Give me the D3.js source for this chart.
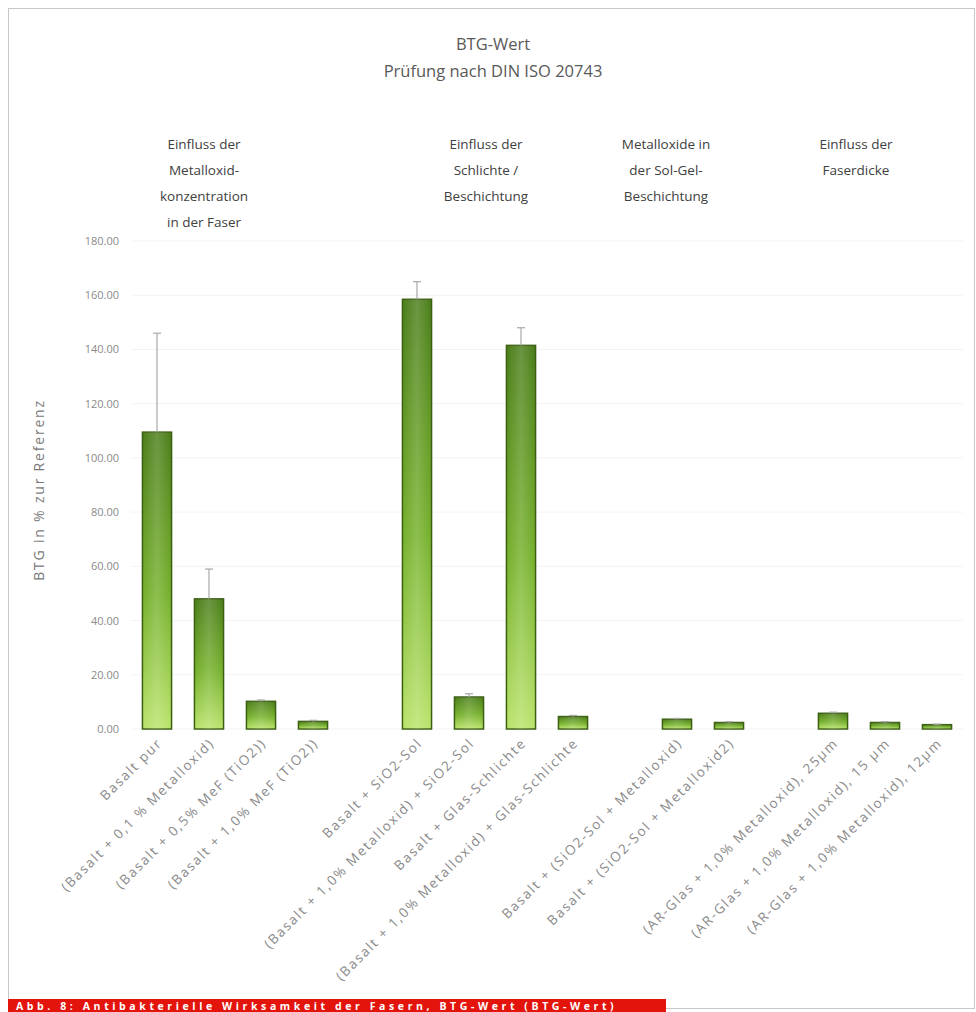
<!DOCTYPE html>
<html>
<head>
<meta charset="utf-8">
<script src="https://cdn.jsdelivr.net/npm/d3@7/dist/d3.min.js"></script>
<style>
  html, body { margin: 0; padding: 0; background: #fff; }
  svg { display: block; }
  text { font-family: "Open Sans", "Noto Sans", sans-serif; }
</style>
</head>
<body>
<svg id="chart" width="976" height="1012"></svg>
<script>
// ---------- DATA ----------
const categories = [
  "Basalt pur",
  "(Basalt + 0,1 % Metalloxid)",
  "(Basalt + 0,5% MeF (TiO2))",
  "(Basalt + 1,0% MeF (TiO2))",
  "",
  "Basalt + SiO2-Sol",
  "(Basalt + 1,0% Metalloxid) + SiO2-Sol",
  "Basalt + Glas-Schlichte",
  "(Basalt + 1,0% Metalloxid) + Glas-Schlichte",
  "",
  "Basalt + (SiO2-Sol + Metalloxid)",
  "Basalt + (SiO2-Sol + Metalloxid2)",
  "",
  "(AR-Glas + 1,0% Metalloxid), 25µm",
  "(AR-Glas + 1,0% Metalloxid), 15 µm",
  "(AR-Glas + 1,0% Metalloxid), 12µm"
];
const values = [109.5, 48.0, 10.2, 2.8, null, 158.5, 11.8, 141.5, 4.6, null, 3.6, 2.4, null, 5.8, 2.4, 1.6];
const errors = [36.5, 11.0, 0.5, 0.4, null, 6.5, 1.2, 6.5, 0.4, null, 0.3, 0.3, null, 0.4, 0.3, 0.2];
const yTicks = [0, 20, 40, 60, 80, 100, 120, 140, 160, 180];
const groupLabels = [
  ["Einfluss der", "Metalloxid-", "konzentration", "in der Faser"],
  ["Einfluss der", "Schlichte /", "Beschichtung"],
  ["Metalloxide in", "der Sol-Gel-", "Beschichtung"],
  ["Einfluss der", "Faserdicke"]
];
const titleLines = ["BTG-Wert", "Prüfung nach DIN ISO 20743"];
const yTitle = "BTG in % zur Referenz";
const caption = "Abb. 8: Antibakterielle Wirksamkeit der Fasern, BTG-Wert (BTG-Wert)";

// ---------- LAYOUT ----------
const svg = d3.select("#chart");
const x = d3.scaleBand().domain(d3.range(categories.length)).range([131, 963]).paddingInner(0.44).paddingOuter(0.22);
const y = d3.scaleLinear().domain([0, 180]).range([729, 241]);

// outer frame
svg.append("rect").attr("x", 8.5).attr("y", 8.5).attr("width", 966).attr("height", 1000)
  .attr("fill", "#fff").attr("stroke", "#c8c8c8").attr("stroke-width", 1);

// gradient
const defs = svg.append("defs");
const grad = defs.append("linearGradient").attr("id", "barGrad").attr("x1", 0).attr("y1", 0).attr("x2", 0).attr("y2", 1);
grad.append("stop").attr("offset", "0%").attr("stop-color", "#4a7d18");
grad.append("stop").attr("offset", "55%").attr("stop-color", "#74b02a");
grad.append("stop").attr("offset", "100%").attr("stop-color", "#b9e36a");
const hgrad = defs.append("linearGradient").attr("id", "barShine").attr("x1", 0).attr("y1", 0).attr("x2", 1).attr("y2", 0);
hgrad.append("stop").attr("offset", "0%").attr("stop-color", "#fff").attr("stop-opacity", 0);
hgrad.append("stop").attr("offset", "50%").attr("stop-color", "#fff").attr("stop-opacity", 0.18);
hgrad.append("stop").attr("offset", "100%").attr("stop-color", "#fff").attr("stop-opacity", 0);

// title
svg.append("g").selectAll("text").data(titleLines).join("text")
  .attr("x", 493).attr("y", (d, i) => 50 + i * 27)
  .attr("text-anchor", "middle").attr("font-size", 16.5).attr("fill", "#595959").text(d => d);

// group labels
const groupX = [204, 486, 666, 856];
groupLabels.forEach((lines, gi) => {
  svg.append("g").selectAll("text").data(lines).join("text")
    .attr("x", groupX[gi]).attr("y", (d, i) => 149 + i * 26)
    .attr("text-anchor", "middle").attr("font-size", 13.5).attr("fill", "#404040").text(d => d);
});

// gridlines (very faint)
svg.append("g").selectAll("line").data(yTicks).join("line")
  .attr("x1", 131).attr("x2", 963).attr("y1", d => y(d)).attr("y2", d => y(d))
  .attr("stroke", "#f3f3f3").attr("stroke-width", 1);

// y axis
const yAxis = d3.axisLeft(y).tickValues(yTicks).tickFormat(d3.format(".2f")).tickSize(0).tickPadding(12);
const yg = svg.append("g").attr("transform", "translate(131,0)").call(yAxis);
yg.select(".domain").remove();
yg.selectAll("text").attr("font-size", 11).attr("fill", "#8a8a8a").attr("font-family", "'Open Sans', sans-serif");

// y title
svg.append("text").attr("transform", "translate(44,490) rotate(-90)")
  .attr("text-anchor", "middle").attr("font-size", 14).attr("fill", "#7a7a7a").attr("letter-spacing", 1.8).text(yTitle);

// bars
const data = categories.map((c, i) => ({ i, c, v: values[i], e: errors[i] })).filter(d => d.v != null);
const bars = svg.append("g");
bars.selectAll("rect.bar").data(data).join("rect").attr("class", "bar")
  .attr("x", d => x(d.i)).attr("width", x.bandwidth())
  .attr("y", d => y(d.v)).attr("height", d => y(0) - y(d.v))
  .attr("fill", "url(#barGrad)").attr("stroke", "#3c5f14").attr("stroke-width", 1.5);
bars.selectAll("rect.shine").data(data).join("rect").attr("class", "shine")
  .attr("x", d => x(d.i)).attr("width", x.bandwidth())
  .attr("y", d => y(d.v)).attr("height", d => y(0) - y(d.v))
  .attr("fill", "url(#barShine)");

// error bars
const eb = svg.append("g").attr("stroke", "#a8a8a8").attr("stroke-width", 1.2);
eb.selectAll("line.v").data(data).join("line")
  .attr("x1", d => x(d.i) + x.bandwidth() / 2).attr("x2", d => x(d.i) + x.bandwidth() / 2)
  .attr("y1", d => y(d.v)).attr("y2", d => y(d.v + d.e));
eb.selectAll("line.c").data(data).join("line")
  .attr("x1", d => x(d.i) + x.bandwidth() / 2 - 4).attr("x2", d => x(d.i) + x.bandwidth() / 2 + 4)
  .attr("y1", d => y(d.v + d.e)).attr("y2", d => y(d.v + d.e));

// x labels
svg.append("g").selectAll("text").data(categories.map((c, i) => ({ c, i })).filter(d => d.c)).join("text")
  .attr("transform", d => `translate(${x(d.i) + x.bandwidth() / 2 + 6},${744}) rotate(-45)`)
  .attr("text-anchor", "end").attr("font-size", 13.5).attr("fill", "#8a8a8a").attr("letter-spacing", 1.7)
  .text(d => d.c);

// caption bar
svg.append("rect").attr("x", 8).attr("y", 999).attr("width", 658).attr("height", 13).attr("fill", "#e3140c");
svg.append("text").attr("x", 16).attr("y", 1009.5).attr("font-size", 10.5).attr("fill", "#fff").attr("font-weight", "bold").attr("letter-spacing", 3.6).text(caption);
</script>
</body>
</html>
